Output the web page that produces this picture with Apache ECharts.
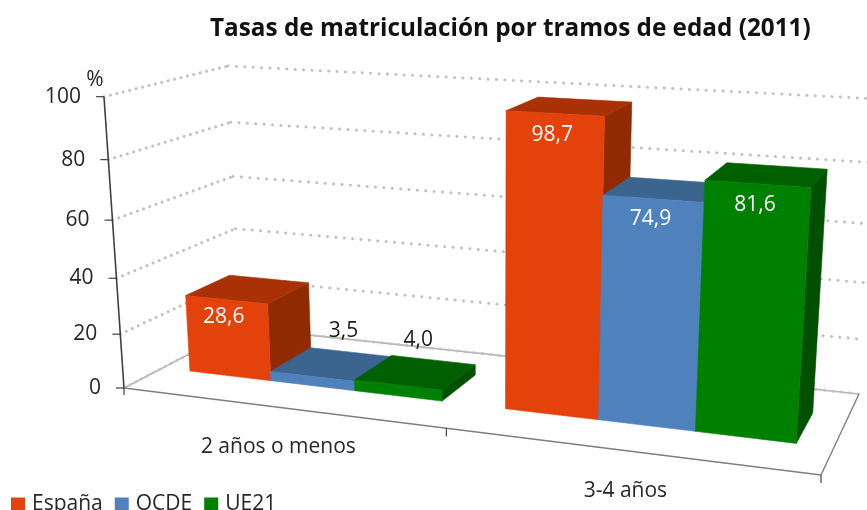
<!DOCTYPE html>
<html><head><meta charset="utf-8">
<style>html,body{margin:0;padding:0;background:#fff;overflow:hidden}#c{width:867px;height:510px}</style>
<script src="https://cdn.jsdelivr.net/npm/echarts@6/dist/echarts.min.js"></script>
</head><body><div id="c"></div>
<script>
const titleText = 'Tasas de matriculación por tramos de edad (2011)';
const categories = ['2 años o menos', '3-4 años'];
const espana = [28.6, 98.7];
const ocde = [3.5, 74.9];
const ue21 = [4.0, 81.6];
const yTicks = [0, 20, 40, 60, 80, 100];
const FONT = '"Open Sans", "Noto Sans", sans-serif';

// Camera of the 3D scene: where the plot box's unit square lands on screen
const frontQuad = [[124,388],[821,475],[842,139],[104,96.7]];
const backQuad  = [[240,327.6],[859,394],[879,99],[228,66]];
const tilt = 0.045;           // foreshortening of the value direction
const depthFront = 0.335, depthBack = 0.715;   // bar front / back within the floor depth
const gapShare = 0.185, barShare = 0.27;        // of a category band

function homography(q){
  const [[x0,y0],[x1,y1],[x2,y2],[x3,y3]] = q;
  const dx1=x1-x2, dx2=x3-x2, dx3=x0-x1+x2-x3, dy1=y1-y2, dy2=y3-y2, dy3=y0-y1+y2-y3;
  const den=dx1*dy2-dx2*dy1, g=(dx3*dy2-dx2*dy3)/den, h=(dx1*dy3-dx3*dy1)/den;
  const a=x1-x0+g*x1, b=x3-x0+h*x3, d=y1-y0+g*y1, e=y3-y0+h*y3;
  return (u,v)=>{const w=g*u+h*v+1; return [(a*u+b*v+x0)/w,(d*u+e*v+y0)/w];};
}
const Hf = homography(frontQuad), Hb = homography(backQuad);
function project(u,v,depth){
  const vv = v*(1-tilt*(1-v));
  const p=Hf(u,vv), q=Hb(u,vv);
  return [p[0]+(q[0]-p[0])*depth, p[1]+(q[1]-p[1])*depth];
}
function norm(params, pt){
  const r=params.coordSys;
  return [(pt[0]-r.x)/r.width, (r.y+r.height-pt[1])/r.height];
}
function poly(points, fill){
  return {type:'polygon', shape:{points}, style:{fill, stroke:fill, lineWidth:0.6}};
}
function line(a,b,style){
  return {type:'line', shape:{x1:a[0],y1:a[1],x2:b[0],y2:b[1]}, style:Object.assign({fill:null},style)};
}
function text(x,y,str,size,fill,align){
  return {type:'text', style:{x,y,text:str,fill,fontFamily:FONT,fontSize:size,
    align:align||'center',verticalAlign:'middle',textAlign:align||'center',textVerticalAlign:'middle'}};
}

function barSeries(name, values, index, colors){
  return {
    type:'custom', name, silent:true, z:5, clip:false,
    itemStyle:{color:colors.front},
    encode:{x:0,y:1},
    data:values.map((v,i)=>[i,v]),
    renderItem(params, api){
      const cat=api.value(0), val=api.value(1);
      const band=api.size([1,0])[0];
      const c0=api.coord([cat,0]), c1=api.coord([cat,val]);
      const left=c0[0]-band/2+band*(gapShare/2+index*barShare);
      const right=left+band*barShare;
      const [u0,v0]=norm(params,[left,c0[1]]);
      const [u1]=norm(params,[right,c0[1]]);
      const v1=norm(params,c1)[1];
      const fbl=project(u0,v0,depthFront), fbr=project(u1,v0,depthFront);
      const ftl=project(u0,v1,depthFront), ftr=project(u1,v1,depthFront);
      const bbr=project(u1,v0,depthBack);
      const btl=project(u0,v1,depthBack), btr=project(u1,v1,depthBack);
      const label=val.toFixed(1).replace('.',',');
      const mid=[(ftl[0]+ftr[0])/2,(ftl[1]+ftr[1])/2];
      const inside=val>10;
      const t=inside
        ? text(mid[0]-3,mid[1]+16+val*0.06,label,21,'#ffffff')
        : text(mid[0]+(index===1?31:20),mid[1]-45,label,21,'#1a1a1a');
      return {type:'group',children:[
        poly([ftr,btr,bbr,fbr],colors.side),
        poly([ftl,btl,btr,ftr],colors.top),
        poly([fbl,fbr,ftr,ftl],colors.front),
        t
      ]};
    }
  };
}

const dots={stroke:'#c2c2c2',lineWidth:3,lineCap:'round'};
const gridSeries={
  type:'custom', name:'grid', silent:true, z:1, clip:false,
  encode:{x:0,y:1},
  data:yTicks.map(t=>[0,t]),
  renderItem(params, api){
    const tick=api.value(1);
    const v=norm(params,api.coord([0,tick]))[1];
    const a=project(0,v,0), b=project(0,v,1), c=project(1,v,1);
    const kids=[];
    if(tick===0){
      const s={stroke:'#b4b4b4',lineWidth:1.6};
      kids.push(line(a,b,s),line(b,c,s));
    }
    kids.push(line(a,b,Object.assign({lineDash:[0.1,6.5]},dots)));
    kids.push(line(b,c,Object.assign({lineDash:[0.1,8.3]},dots)));
    kids.push(line(a,[a[0]-8,a[1]],{stroke:'#404040',lineWidth:1.2}));
    kids.push(text(a[0]-23,a[1],String(tick),21,'#262626','right'));
    return {type:'group',children:kids};
  }
};
const frameSeries={
  type:'custom', name:'frame', silent:true, z:2, clip:false,
  encode:{x:0,y:1},
  data:[[0,100]],
  renderItem(params, api){
    const v=norm(params,api.coord([0,api.value(1)]))[1];
    const ax={stroke:'#404040',lineWidth:1.6};
    const fl={stroke:'#7f7f7f',lineWidth:1.4};
    const tk={stroke:'#404040',lineWidth:1.2};
    const o=project(0,0,0), top=project(0,v,0), mid=project(.5,0,0), end=project(1,0,0), bk=project(1,0,1);
    return {type:'group',children:[
      line(o,top,ax), line(o,end,fl), line(end,bk,fl),
      line(o,[o[0],o[1]+7],tk), line(mid,[mid[0],mid[1]+8],tk), line(end,[end[0],end[1]+8],tk),
      text(top[0]-9,top[1]-17,'%',21,'#262626')
    ]};
  }
};
const catSeries={
  type:'custom', name:'categories', silent:true, z:2, clip:false,
  encode:{x:0,y:1},
  data:categories.map((c,i)=>[i,0]),
  renderItem(params, api){
    const i=api.value(0);
    const [u,v]=norm(params,api.coord([i,0]));
    const p=project(u,v,0);
    return text(p[0]-1,p[1]+40,categories[i],21,'#262626');
  }
};

const chart=echarts.init(document.getElementById('c'),null,{renderer:'canvas'});
chart.setOption({
  animation:false,
  backgroundColor:'#ffffff',
  title:{text:titleText,left:205,top:12,textStyle:{fontFamily:FONT,fontSize:24.3,fontWeight:'bold',color:'#111111'}},
  legend:{data:['España','OCDE','UE21'],left:6,top:489,itemWidth:14,itemHeight:14,itemGap:12,icon:'rect',
    textStyle:{fontFamily:FONT,fontSize:21,color:'#262626',padding:[0,0,0,2]},selectedMode:false},
  grid:{left:0,right:0,top:0,bottom:0},
  xAxis:{type:'category',data:categories,show:false},
  yAxis:{type:'value',min:0,max:100,interval:20,show:false},
  series:[gridSeries,frameSeries,catSeries,
    barSeries('España',espana,0,{front:'#e3420a',top:'#aa3005',side:'#8f2a03'}),
    barSeries('OCDE',ocde,1,{front:'#4f81bd',top:'#3b648f',side:'#355a82'}),
    barSeries('UE21',ue21,2,{front:'#008000',top:'#006000',side:'#005000'})
  ]
});
</script></body></html>
